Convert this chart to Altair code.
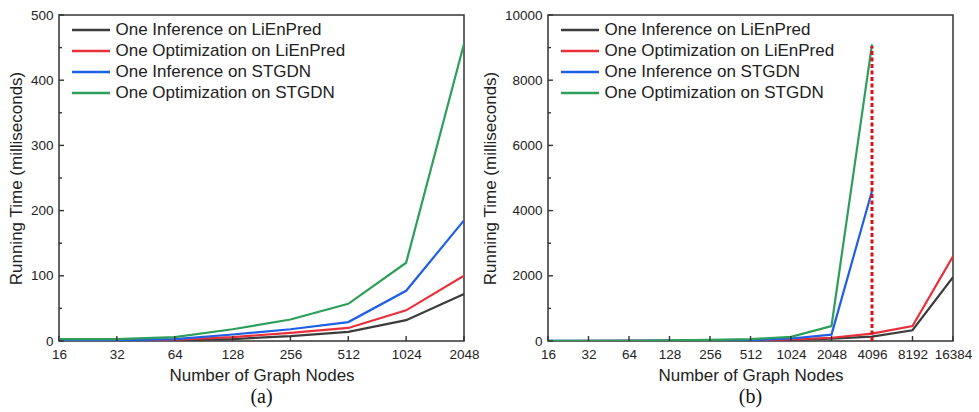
import altair as alt
import pandas as pd

series = ["One Inference on LiEnPred", "One Optimization on LiEnPred",
          "One Inference on STGDN", "One Optimization on STGDN"]
colors = ["#3c3c3c", "#e8303a", "#1f5fe6", "#2e9e5b"]

# Panel (a)
nodes_a = [16, 32, 64, 128, 256, 512, 1024, 2048]
a_inf_lien = [0.3, 0.5, 1, 3, 7.5, 14, 32, 72]
a_opt_lien = [0.5, 0.8, 2, 6, 12.5, 20, 47, 100]
a_inf_stg = [1, 1, 3, 10, 18, 29, 77, 185]
a_opt_stg = [3, 3, 6, 18, 33, 57, 120, 456]
yticks_a = [0, 100, 200, 300, 400, 500]
yminor_a = [50, 150, 250, 350, 450]

# Panel (b)
nodes_b = [16, 32, 64, 128, 256, 512, 1024, 2048, 4096, 8192, 16384]
b_inf_lien = [0.3, 0.5, 1, 3, 7.5, 14, 32, 72, 135, 330, 1960]
b_opt_lien = [0.5, 0.8, 2, 6, 12.5, 20, 47, 100, 225, 460, 2600]
b_inf_stg = [1, 1, 3, 10, 18, 29, 77, 195, 4600]
b_opt_stg = [3, 3, 6, 18, 33, 57, 125, 460, 9100]
yticks_b = [0, 2000, 4000, 6000, 8000, 10000]
yminor_b = [1000, 3000, 5000, 7000, 9000]
cutoff_node = [4096]
cutoff_top = [9050]

FONT = "Liberation Sans"
W, H = 405, 326


def long_df(nodes, cols):
    rows = []
    for s, vals in zip(series, cols):
        for n, v in zip(nodes, vals):
            rows.append({"nodes": n, "time": v, "series": s})
    return pd.DataFrame(rows)


def panel(nodes, cols, yticks, yminor, label, extra=None):
    xscale = alt.Scale(type="log", base=2, domain=[nodes[0], nodes[-1]], nice=False)
    yscale = alt.Scale(domain=[yticks[0], yticks[-1]], nice=False, zero=True)
    df = long_df(nodes, cols)
    lines = alt.Chart(df).mark_line(strokeWidth=2.2, clip=True).encode(
        x=alt.X("nodes:Q", scale=xscale,
                axis=alt.Axis(values=nodes, format="d", ticks=False, domain=False, grid=False,
                              labelFont=FONT, labelFontSize=13.5, labelColor="#222",
                              labelPadding=6, labelFlush=False, labelOverlap=False,
                              title="Number of Graph Nodes", titleFont=FONT,
                              titleFontSize=17, titleFontWeight="normal", titleColor="#222",
                              titlePadding=7)),
        y=alt.Y("time:Q", scale=yscale,
                axis=alt.Axis(values=yticks, format="d", ticks=False, domain=False, grid=False,
                              labelFont=FONT, labelFontSize=13.5, labelColor="#222",
                              labelPadding=6, labelFlush=False, labelOverlap=False,
                              title="Running Time (milliseconds)", titleFont=FONT,
                              titleFontSize=17, titleFontWeight="normal", titleColor="#222",
                              titlePadding=5)),
        color=alt.Color("series:N", scale=alt.Scale(domain=series, range=colors),
                        legend=alt.Legend(title=None, orient="none", legendX=21, legendY=4,
                                          symbolType="M-2,0H2", symbolSize=361,
                                          symbolStrokeWidth=2.5, symbolFillColor="transparent",
                                          labelFont=FONT, labelFontSize=17, labelColor="#222",
                                          labelOffset=13.5, labelLimit=0, rowPadding=2,
                                          padding=0)),
        order=alt.Order("nodes:Q"),
    )
    tdf = pd.DataFrame({"time": yticks})
    mdf = pd.DataFrame({"time": yminor})
    xdf = pd.DataFrame({"nodes": nodes})
    ymaj = alt.Chart(tdf).mark_rule(color="#333", strokeWidth=1.4).encode(
        y=alt.Y("time:Q", scale=yscale), x=alt.value(0), x2=alt.value(5))
    ymin = alt.Chart(mdf).mark_rule(color="#333", strokeWidth=1.4).encode(
        y=alt.Y("time:Q", scale=yscale), x=alt.value(0), x2=alt.value(3))
    xmaj = alt.Chart(xdf).mark_rule(color="#333", strokeWidth=1.4).encode(
        x=alt.X("nodes:Q", scale=xscale), y=alt.value(H), y2=alt.value(H - 5))
    layers = [lines, ymaj, ymin, xmaj]
    if extra is not None:
        edf = pd.DataFrame({"nodes": extra[0], "time": [0], "hi": extra[1]})
        layers.append(alt.Chart(edf).mark_rule(color="#d0141c", strokeWidth=3,
                                               strokeDash=[4, 2.5]).encode(
            x=alt.X("nodes:Q", scale=xscale),
            y=alt.Y("time:Q", scale=yscale), y2="hi:Q"))
    return alt.layer(*layers).properties(
        width=W, height=H,
        title=alt.TitleParams(label, orient="bottom", font="Liberation Serif", fontSize=20,
                              fontWeight="normal", color="#111", frame="group", offset=3))


pa = panel(nodes_a, [a_inf_lien, a_opt_lien, a_inf_stg, a_opt_stg], yticks_a, yminor_a, "(a)")
pb = panel(nodes_b, [b_inf_lien, b_opt_lien, b_inf_stg, b_opt_stg], yticks_b, yminor_b, "(b)",
           extra=(cutoff_node, cutoff_top))

chart = alt.hconcat(pa, pb, spacing=0).resolve_scale(color="independent").properties(
    padding={"left": 6, "top": 7, "right": 0, "bottom": 0}, background="white"
).configure_view(stroke="#333", strokeWidth=1.5)

chart.save("out.html", embed_options={"renderer": "svg", "actions": False})
